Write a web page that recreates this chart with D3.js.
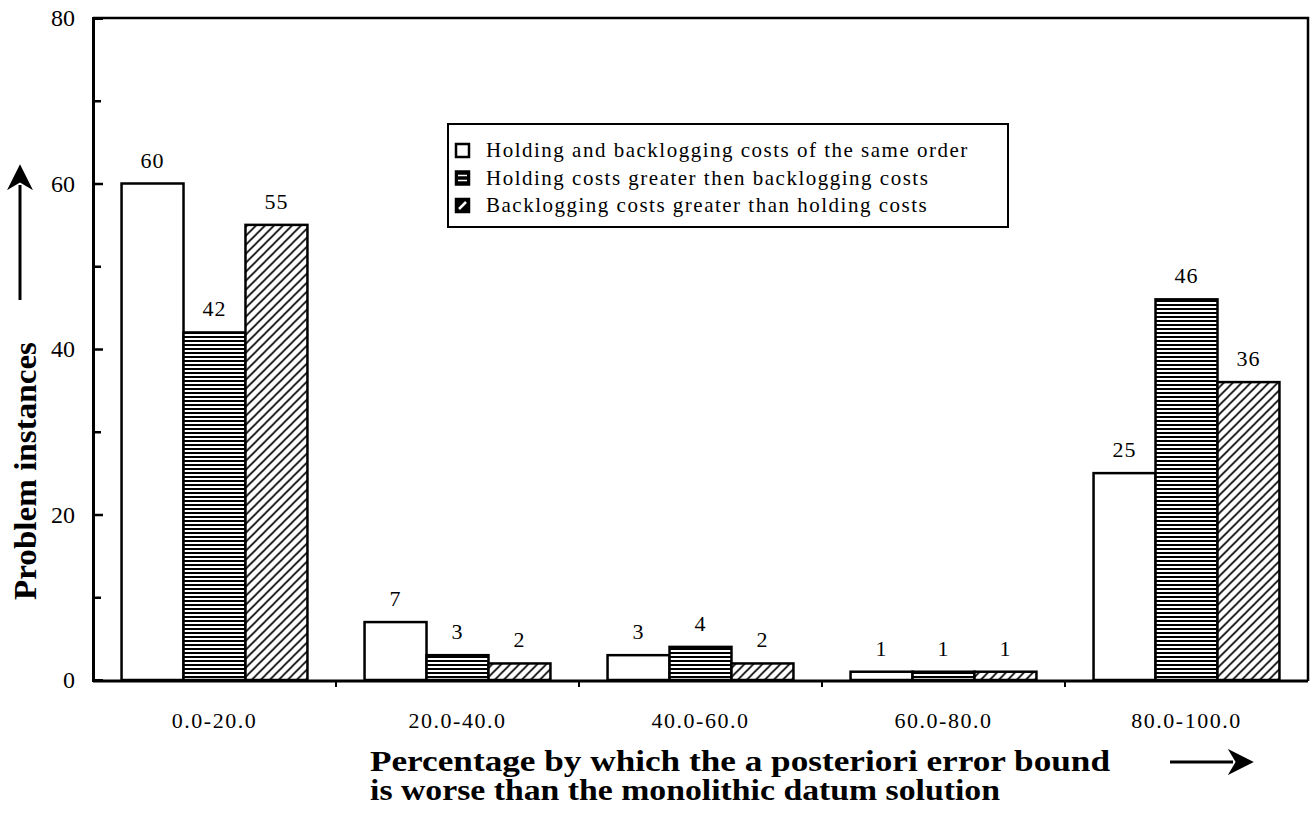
<!DOCTYPE html>
<html>
<head>
<meta charset="utf-8">
<script src="https://cdn.jsdelivr.net/npm/d3@7"></script>
<style>
  body { margin: 0; background: #fff; }
  svg { display: block; font-family: "Liberation Serif", "DejaVu Serif", serif; }
</style>
</head>
<body>
<svg width="1314" height="814"></svg>
<script>
// data
var categories = ['0.0-20.0', '20.0-40.0', '40.0-60.0', '60.0-80.0', '80.0-100.0'];
var seriesNames = [
  'Holding and backlogging costs of the same order',
  'Holding costs greater then backlogging costs',
  'Backlogging costs greater than holding costs'
];
var sameOrder = [60, 7, 3, 1, 25];
var holdingGreater = [42, 3, 4, 1, 46];
var backlogGreater = [55, 2, 2, 1, 36];
var yMajorTicks = [0, 20, 40, 60, 80];
var yMinorTicks = [10, 30, 50, 70];

var seriesValues = [sameOrder, holdingGreater, backlogGreater];
var fills = ['#fff', 'url(#stripes)', 'url(#hatch)'];

const svg = d3.select('svg');
var plotLeft = 93, plotRight = 1308, plotTop = 18, plotBottom = 681;

// patterns
var defs = svg.append('defs');
var stripes = defs.append('pattern')
  .attr('id', 'stripes')
  .attr('patternUnits', 'userSpaceOnUse')
  .attr('width', 8).attr('height', 4);
stripes.append('rect').attr('width', 8).attr('height', 4).attr('fill', '#fff');
stripes.append('rect').attr('y', 0).attr('width', 8).attr('height', 2).attr('fill', '#000');

var hatch = defs.append('pattern')
  .attr('id', 'hatch')
  .attr('patternUnits', 'userSpaceOnUse')
  .attr('width', 9).attr('height', 9);
hatch.append('rect').attr('width', 9).attr('height', 9).attr('fill', '#fff');
hatch.append('path')
  .attr('d', 'M-2,2 L2,-2 M0,9 L9,0 M7,11 L11,7')
  .attr('stroke', '#000')
  .attr('stroke-width', 1.6);

var x = d3.scaleBand()
  .domain(categories)
  .range([plotLeft, plotRight])
  .paddingInner(0.235)
  .paddingOuter(0.1175);

var xSub = d3.scaleBand()
  .domain(d3.range(seriesNames.length))
  .range([0, x.bandwidth()]);

var y = d3.scaleLinear().domain([0, 80]).range([plotBottom - 1, plotTop]);

// bars
var groups = svg.append('g').attr('class', 'bars')
  .selectAll('g')
  .data(categories)
  .enter().append('g')
  .attr('transform', function(d) { return 'translate(' + x(d) + ',0)'; });

function rowOf(d, i) {
  return seriesValues.map(function(s, k) { return {k: k, v: s[i]}; });
}

groups.selectAll('rect')
  .data(rowOf)
  .enter().append('rect')
  .attr('x', function(d) { return xSub(d.k); })
  .attr('y', function(d) { return y(d.v); })
  .attr('width', xSub.bandwidth())
  .attr('height', function(d) { return y(0) - y(d.v); })
  .attr('fill', function(d) { return fills[d.k]; })
  .attr('stroke', '#000')
  .attr('stroke-width', 2.5);

groups.selectAll('text')
  .data(rowOf)
  .enter().append('text')
  .attr('x', function(d) { return xSub(d.k) + xSub.bandwidth() / 2; })
  .attr('y', function(d) { return y(d.v) - 16; })
  .attr('text-anchor', 'middle')
  .style('font-size', '22px')
  .style('letter-spacing', '1px')
  .text(function(d) { return d.v; });

// frame
svg.append('path')
  .attr('d', 'M' + plotLeft + ',' + plotTop + 'H' + plotRight + 'V' + plotBottom)
  .attr('fill', 'none')
  .attr('stroke', '#000')
  .attr('stroke-width', 2.5);

// y axis, ticks pointing inward
var yAxis = svg.append('g')
  .attr('transform', 'translate(' + plotLeft + ',0)')
  .call(d3.axisLeft(y).tickValues(yMajorTicks).tickSize(-10).tickPadding(18));
yAxis.select('.domain').attr('stroke-width', 3);
yAxis.selectAll('.tick line').attr('stroke-width', 2.5);
yAxis.selectAll('.tick text')
  .style('font-family', '"Liberation Serif", serif')
  .style('font-size', '24px');

svg.append('g')
  .attr('transform', 'translate(' + plotLeft + ',0)')
  .call(d3.axisLeft(y).tickValues(yMinorTicks).tickSize(-8).tickFormat(''))
  .call(function(g) { g.select('.domain').remove(); })
  .selectAll('.tick line').attr('stroke-width', 2.5);

// x axis
var xAxis = svg.append('g')
  .attr('transform', 'translate(0,' + plotBottom + ')')
  .call(d3.axisBottom(x).tickSize(0).tickPadding(31));
xAxis.select('.domain')
  .attr('d', 'M' + plotLeft + ',0H' + plotRight)
  .attr('stroke-width', 3);
xAxis.selectAll('.tick text')
  .style('font-family', '"Liberation Serif", serif')
  .style('font-size', '22px')
  .style('letter-spacing', '1.5px');

// small ticks between category groups
var boundaries = categories.slice(1).map(function(c) { return x(c) - x.step() * x.paddingInner() / 2; });
svg.append('g').selectAll('line')
  .data(boundaries)
  .enter().append('line')
  .attr('x1', function(d) { return d; })
  .attr('x2', function(d) { return d; })
  .attr('y1', plotBottom)
  .attr('y2', plotBottom + 6)
  .attr('stroke', '#000')
  .attr('stroke-width', 2);

// legend
var legend = svg.append('g').attr('transform', 'translate(448,124)');
legend.append('rect')
  .attr('width', 560).attr('height', 103)
  .attr('fill', '#fff')
  .attr('stroke', '#000')
  .attr('stroke-width', 2);
var items = legend.selectAll('g.item')
  .data(seriesNames)
  .enter().append('g')
  .attr('class', 'item')
  .attr('transform', function(d, i) { return 'translate(0,' + (27 + i * 27.5) + ')'; });
items.append('rect')
  .attr('x', 8).attr('y', -7)
  .attr('width', 13).attr('height', 13)
  .attr('fill', function(d, i) { return i === 0 ? '#fff' : '#000'; })
  .attr('stroke', '#000')
  .attr('stroke-width', 2.5);
items.filter(function(d, i) { return i === 1; }).selectAll('line.s')
  .data([-2.5, 2.5])
  .enter().append('line')
  .attr('x1', 10).attr('x2', 19)
  .attr('y1', function(d) { return d - 0.5; }).attr('y2', function(d) { return d - 0.5; })
  .attr('stroke', '#fff').attr('stroke-width', 1.5);
items.filter(function(d, i) { return i === 2; }).append('line')
  .attr('x1', 11).attr('y1', 3).attr('x2', 18).attr('y2', -4)
  .attr('stroke', '#fff').attr('stroke-width', 2.5);
items.append('text')
  .attr('x', 38).attr('y', 6)
  .style('font-size', '21px')
  .style('letter-spacing', '1.5px')
  .text(function(d) { return d; });

// y axis title with arrow
svg.append('text')
  .attr('transform', 'translate(36,471) rotate(-90)')
  .attr('text-anchor', 'middle')
  .attr('textLength', 258)
  .attr('lengthAdjust', 'spacingAndGlyphs')
  .style('font-size', '31px')
  .style('font-weight', 'bold')
  .text('Problem instances');

defs.append('marker')
  .attr('id', 'head')
  .attr('viewBox', '0 0 10 10')
  .attr('refX', 2).attr('refY', 5)
  .attr('markerWidth', 26).attr('markerHeight', 26)
  .attr('markerUnits', 'userSpaceOnUse')
  .attr('orient', 'auto')
  .append('path').attr('d', 'M0,0 L10,5 L0,10 L3,5 Z').attr('fill', '#000');

svg.append('line')
  .attr('x1', 20).attr('y1', 300).attr('x2', 20).attr('y2', 185)
  .attr('stroke', '#000').attr('stroke-width', 3)
  .attr('marker-end', 'url(#head)');

// x axis title with arrow
var xt = svg.append('text')
  .style('font-size', '29px')
  .style('font-weight', 'bold');
xt.append('tspan').attr('x', 370).attr('y', 771)
  .attr('textLength', 740).attr('lengthAdjust', 'spacingAndGlyphs')
  .text('Percentage by which the a posteriori error bound');
xt.append('tspan').attr('x', 370).attr('y', 800)
  .attr('textLength', 630).attr('lengthAdjust', 'spacingAndGlyphs')
  .text('is worse than the monolithic datum solution');

svg.append('line')
  .attr('x1', 1170).attr('y1', 762).attr('x2', 1233).attr('y2', 762)
  .attr('stroke', '#000').attr('stroke-width', 3)
  .attr('marker-end', 'url(#head)');
</script>
</body>
</html>
